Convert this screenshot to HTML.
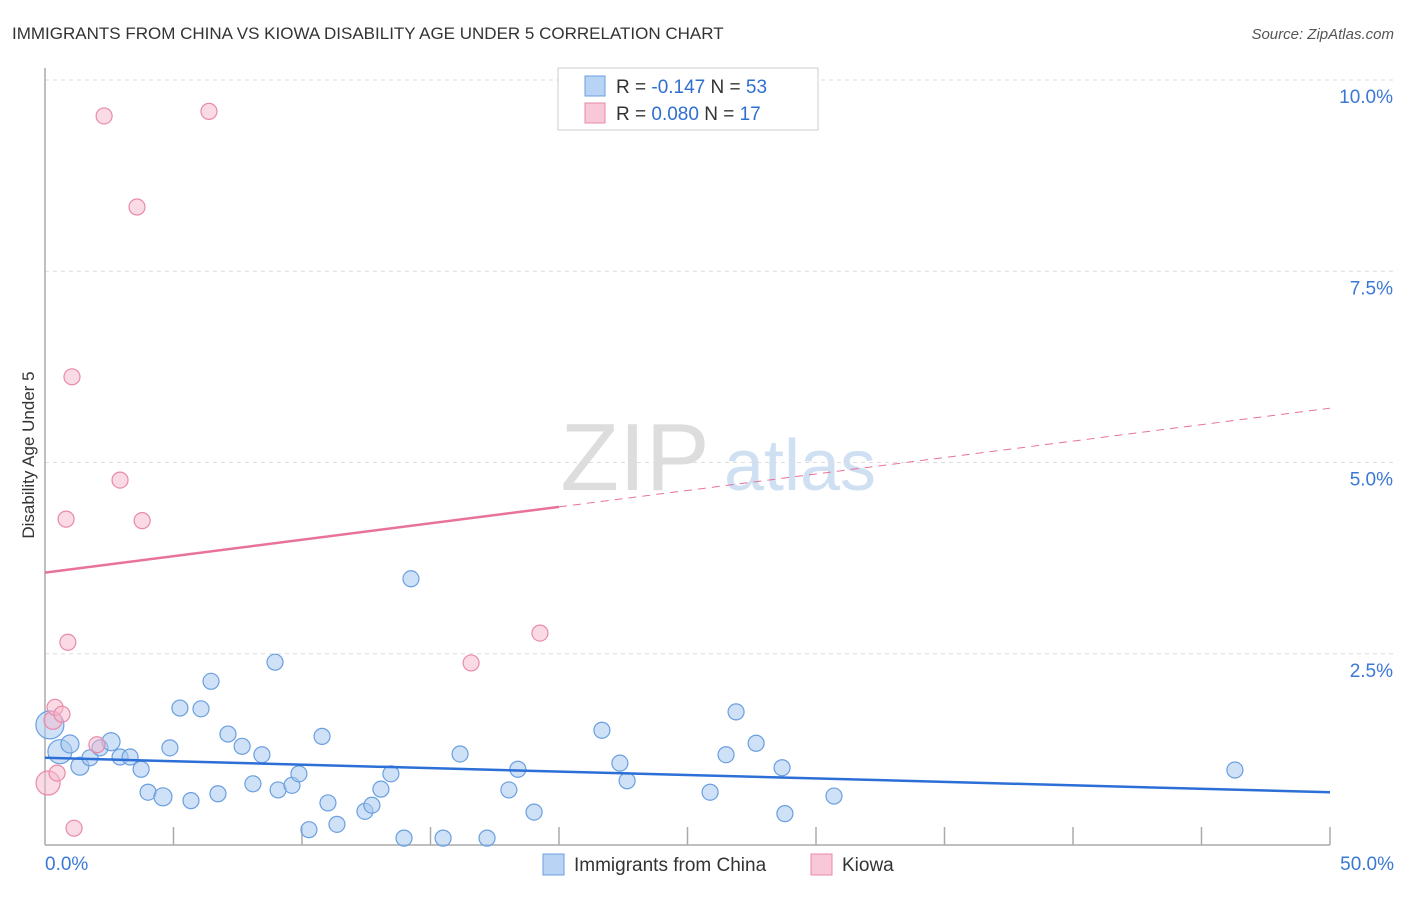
<!DOCTYPE html>
<html><head><meta charset="utf-8">
<style>
body{margin:0;background:#fff;font-family:"Liberation Sans",sans-serif;}
svg text{font-family:"Liberation Sans",sans-serif;}
</style></head>
<body>
<svg id="chart" width="1406" height="892" xmlns="http://www.w3.org/2000/svg">
<text x="12" y="39" font-size="17" fill="#333">IMMIGRANTS FROM CHINA VS KIOWA DISABILITY AGE UNDER 5 CORRELATION CHART</text>
<text x="1394" y="39" font-size="15" fill="#555" font-style="italic" text-anchor="end">Source: ZipAtlas.com</text>
<text x="34" y="455" font-size="17" fill="#333" text-anchor="middle" transform="rotate(-90 34 455)">Disability Age Under 5</text>
<g>
<text x="635" y="490" font-size="96" fill="#ddd" font-family="Liberation Serif" text-anchor="middle">ZIP</text>
<text x="800" y="490" font-size="72" fill="#cfe0f3" text-anchor="middle">atlas</text>
</g>
<g id="grid"></g>
<g id="axes"></g>
<g id="lines"></g>
<g id="points"></g>
<g>
<rect x="558" y="68" width="260" height="62" fill="#fff" stroke="#ccc"/>
<rect x="585" y="76" width="20" height="20" fill="#b9d3f5" stroke="#6a9fe0"/>
<rect x="585" y="103" width="20" height="20" fill="#f9c8d8" stroke="#e88aa8"/>
<text x="616" y="93" font-size="19" fill="#333">R = <tspan fill="#2f6fd0">-0.147</tspan>   N = <tspan fill="#2f6fd0">53</tspan></text>
<text x="616" y="120" font-size="19" fill="#333">R = <tspan fill="#2f6fd0"> 0.080</tspan>   N = <tspan fill="#2f6fd0"> 17</tspan></text>
</g>
<g>
<rect x="543" y="854" width="21" height="21" fill="#b9d3f5" stroke="#6a9fe0"/>
<text x="574" y="871" font-size="19" fill="#333">Immigrants from China</text>
<rect x="811" y="854" width="21" height="21" fill="#f9c8d8" stroke="#e88aa8"/>
<text x="842" y="871" font-size="19" fill="#333">Kiowa</text>
</g>
</svg>
<script>
const blueX=[0.19,0.58,0.97,1.36,1.75,2.14,2.57,2.92,3.31,3.74,4.01,4.59,4.86,5.25,5.68,6.07,6.46,6.73,7.12,7.67,8.09,8.44,8.95,9.07,9.61,9.88,10.27,10.78,11.01,11.36,12.45,12.72,13.07,13.46,13.97,14.24,15.49,16.15,17.20,18.05,18.40,19.03,21.67,22.37,22.65,25.88,26.50,26.89,27.67,28.68,28.79,30.70,46.30];
const blueY=[1.57,1.22,1.32,1.03,1.14,1.27,1.35,1.15,1.15,0.99,0.69,0.63,1.27,1.79,0.58,1.78,2.14,0.67,1.45,1.29,0.80,1.18,2.39,0.72,0.78,0.93,0.20,1.42,0.55,0.27,0.44,0.52,0.73,0.93,0.09,3.48,0.09,1.19,0.09,0.72,0.99,0.43,1.50,1.07,0.84,0.69,1.18,1.74,1.33,1.01,0.41,0.64,0.98];
const blueR=[14,12,9,9,8,8,9,8,8,8,8,9,8,8,8,8,8,8,8,8,8,8,8,8,8,8,8,8,8,8,8,8,8,8,8,8,8,8,8,8,8,8,8,8,8,8,8,8,8,8,8,8,8];
const pinkX=[0.12,0.31,0.39,0.47,0.66,0.82,0.89,1.05,1.13,2.02,2.30,2.92,3.58,3.78,6.38,16.58,19.26];
const pinkY=[0.81,1.63,1.80,0.94,1.71,4.26,2.65,6.12,0.22,1.31,9.53,4.77,8.34,4.24,9.59,2.38,2.77];
const pinkR=[12,9,8,8,8,8,8,8,8,8,8,8,8,8,8,8,8];
const blueTrend=[1.14,0.69];       // y at x=0 and x=50
const pinkTrend=[3.56,5.71];       // y at x=0 and x=50
const pinkSolidEnd=20;             // solid portion up to this x
const yTicks=[2.5,5.0,7.5,10.0];
const yTickLabels=["2.5%","5.0%","7.5%","10.0%"];
const xTickLabels=["0.0%","50.0%"];

const NS="http://www.w3.org/2000/svg";
const X0=45,X1=1330,Y0=845,PPY=76.5;
const sx=v=>X0+(v/50)*(X1-X0);
const sy=v=>Y0-v*PPY;
function mk(tag,attrs,parent){const e=document.createElementNS(NS,tag);for(const k in attrs)e.setAttribute(k,attrs[k]);parent.appendChild(e);return e;}
const grid=document.getElementById('grid'),axes=document.getElementById('axes'),lines=document.getElementById('lines'),pts=document.getElementById('points');

yTicks.forEach((t,i)=>{
  const l=mk('line',{x1:X0,x2:1394,y1:sy(t),y2:sy(t),stroke:'#ddd','stroke-dasharray':'4,4'},grid);
  
  
  const tx=mk('text',{x:1393,y:sy(t)+23,'font-size':19,fill:'#3a78d6','text-anchor':'end'},axes);
  tx.textContent=yTickLabels[i];
  
  
});
let a=mk('line',{x1:X0,x2:X0,y1:68,y2:Y0,stroke:'#aaa','stroke-width':1.5},axes);


a=mk('line',{x1:X0,x2:X1,y1:Y0,y2:Y0,stroke:'#aaa','stroke-width':1.5},axes);


for(let i=1;i<=10;i++){
  const t=mk('line',{x1:sx(i*5),x2:sx(i*5),y1:Y0,y2:827,stroke:'#aaa','stroke-width':1.5},axes);
  
  
}
let xl=mk('text',{x:45,y:870,'font-size':19,fill:'#3a78d6'},axes);
xl.textContent=xTickLabels[0];


xl=mk('text',{x:1394,y:870,'font-size':19,fill:'#3a78d6','text-anchor':'end'},axes);
xl.textContent=xTickLabels[1];



blueX.forEach((x,i)=>{
  const c=mk('circle',{cx:sx(x),cy:sy(blueY[i]),r:blueR[i],fill:'#a8c8f0','fill-opacity':0.55,stroke:'#6a9fe0','stroke-width':1.2},pts);
  
  
});
pinkX.forEach((x,i)=>{
  const c=mk('circle',{cx:sx(x),cy:sy(pinkY[i]),r:pinkR[i],fill:'#f5b8cc','fill-opacity':0.5,stroke:'#e88aa8','stroke-width':1.2},pts);
  
  
});
const pAt=x=>pinkTrend[0]+(pinkTrend[1]-pinkTrend[0])*x/50;
let ln=mk('line',{x1:sx(0),y1:sy(pAt(0)),x2:sx(pinkSolidEnd),y2:sy(pAt(pinkSolidEnd)),stroke:'#e8729a','stroke-width':2.5},lines);


ln=mk('line',{x1:sx(pinkSolidEnd),y1:sy(pAt(pinkSolidEnd)),x2:sx(50),y2:sy(pAt(50)),stroke:'#e8729a','stroke-width':1,'stroke-dasharray':'8,6'},lines);


ln=mk('line',{x1:sx(0),y1:sy(blueTrend[0]),x2:sx(50),y2:sy(blueTrend[1]),stroke:'#2c6fd6','stroke-width':2.5},pts);


</script>
</body></html>
